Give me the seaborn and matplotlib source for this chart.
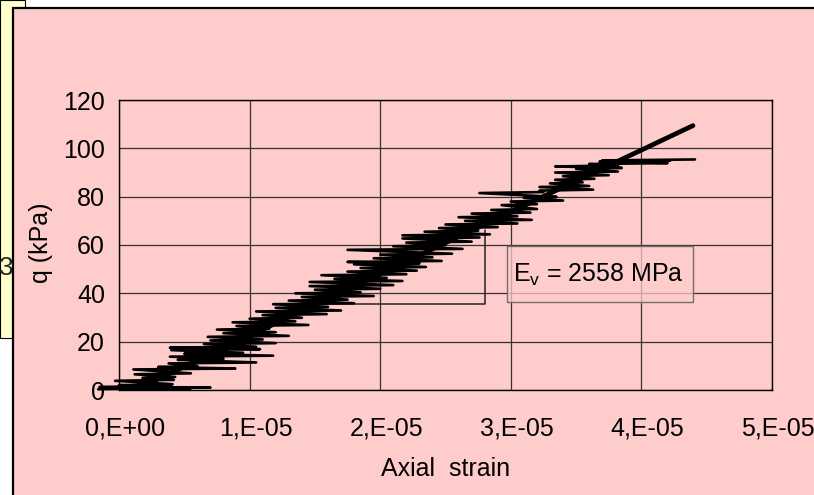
import numpy as np
import pandas as pd
import matplotlib
matplotlib.use("Agg")
import matplotlib.pyplot as plt
from matplotlib.patches import Rectangle
from matplotlib.transforms import ScaledTranslation
import seaborn as sns

# ---------------- data ----------------
# levels of deviatoric stress q (kPa) with left / right strain excursions (micro-strain)
q_levels = [0.3, 0.6, 1.2, 2.0, 3.8, 5.0, 6.5, 8.5, 9.5, 11.0, 12.5, 13.8, 15.0, 16.5,
            17.5, 19.0, 20.5, 22.0, 23.5, 25.0, 26.5, 28.0, 29.5, 31.0, 32.5, 34.0,
            35.5, 37.0, 38.5, 40.0, 41.5, 43.0, 44.7, 46.0, 47.5, 49.0, 50.5, 52.0,
            53.0, 54.5, 56.0, 58.0, 59.5, 61.0, 62.7, 64.0, 65.5, 67.0, 68.5, 70.0,
            71.5, 73.0, 74.5, 76.5, 78.0, 79.5, 81.5, 82.5, 84.0, 85.5, 87.0, 88.5,
            90.0, 91.5, 92.5, 93.5, 94.5, 95.0]
left_ue = [-1.6, -1.2, -1.5, 0.0, -0.3, 1.8, 1.2, 1.1, 3.0, 3.8, 4.5, 3.9, 5.0, 4.0,
           3.9, 6.5, 7.0, 6.8, 8.0, 7.5, 9.0, 8.7, 10.0, 11.0, 10.5, 12.0,
           11.8, 13.0, 14.0, 13.5, 15.0, 14.6, 14.6, 16.5, 15.5, 17.5, 18.5, 18.0,
           17.5, 19.5, 20.0, 17.5, 21.0, 22.0, 21.7, 21.7, 23.4, 24.5, 25.0, 26.5,
           26.0, 27.0, 28.5, 29.3, 30.0, 31.0, 27.6, 32.2, 32.2, 33.0, 33.4, 34.0,
           33.4, 35.0, 33.4, 36.0, 36.8, 37.0]
right_ue = [5.5, 7.0, 4.0, 4.1, 4.2, 4.3, 5.5, 8.9, 6.0, 10.5, 8.0, 11.8, 9.5, 10.8,
            10.5, 12.0, 11.0, 13.0, 12.0, 11.5, 14.5, 13.5, 14.0, 15.9, 17.0, 16.0,
            18.0, 17.5, 19.5, 18.5, 20.0, 21.0, 21.7, 20.5, 22.0, 22.8, 23.5, 23.0,
            24.7, 24.0, 25.5, 26.3, 25.0, 27.0, 27.6, 28.4, 27.5, 29.0, 30.5, 31.6,
            30.5, 31.5, 32.0, 32.0, 34.0, 33.5, 32.5, 36.3, 36.0, 35.5, 36.4, 37.5,
            38.2, 38.5, 38.2, 42.0, 42.2, 44.1]

# linear fit (E_v = 2558 MPa)
fit_strain = [1.2e-6, 43.95e-6]
fit_q = [0.0, 109.4]

# slope triangle
tri_strain = [15.1e-6, 28.0e-6, 28.0e-6]
tri_q = [35.6, 35.6, 66.2]

x_ticks = [0.0, 1e-5, 2e-5, 3e-5, 4e-5, 5e-5]
x_tick_labels = ["0,E+00", "1,E-05", "2,E-05", "3,E-05", "4,E-05", "5,E-05"]
y_ticks = [0, 20, 40, 60, 80, 100, 120]

# build the measured trace: each level drawn left -> right
strain_seq, q_seq = [], []
for qv, lv, rv in zip(q_levels, left_ue, right_ue):
    strain_seq += [lv * 1e-6, rv * 1e-6]
    q_seq += [qv, qv + 0.4]
df = pd.DataFrame({"strain": strain_seq, "q": q_seq})

# ---------------- style ----------------
sns.set_theme(style="white")
plt.rcParams["font.family"] = ["Liberation Sans", "DejaVu Sans"]
plt.rcParams["mathtext.fontset"] = "custom"
plt.rcParams["mathtext.rm"] = "Liberation Sans"
plt.rcParams["mathtext.it"] = "Liberation Sans"

PINK = "#FFCCCC"
YELLOW = "#FFFFCC"
W, H = 814, 495
fig = plt.figure(figsize=(W / 100, H / 100), dpi=100)
fig.patch.set_facecolor("white")

# background decorations (in pixel-derived figure fractions)
yellow = Rectangle((0, (H - 338) / H), 25 / W, 338 / H, transform=fig.transFigure,
                   facecolor=YELLOW, edgecolor="black", linewidth=0.8, zorder=-10)
fig.patches.append(yellow)
fig.text(6 / W, 1 - 268 / H, "3", fontsize=19, ha="center", va="center", zorder=-9)
pink = Rectangle((13 / W, -0.05), 1.0, (H - 7.5) / H + 0.05, transform=fig.transFigure,
                 facecolor=PINK, edgecolor="black", linewidth=1.6, zorder=-8)
fig.patches.append(pink)

ax = fig.add_axes([119 / W, 1 - 390 / H, (772 - 119) / W, (390 - 100) / H])
ax.set_facecolor(PINK)

sns.lineplot(data=df, x="strain", y="q", sort=False, estimator=None, color="black",
             linewidth=1.9, ax=ax, clip_on=False, zorder=3)
sns.lineplot(x=fit_strain, y=fit_q, sort=False, estimator=None, color="black",
             linewidth=3.4, ax=ax, zorder=4)
ax.plot(tri_strain, tri_q, color="#222222", linewidth=1.1, zorder=2)

ax.set_xlim(0, 5e-5)
ax.set_ylim(0, 120)
ax.set_xticks(x_ticks)
ax.set_xticklabels(x_tick_labels)
ax.set_yticks(y_ticks)
ax.grid(True, color="#333333", linewidth=0.9)
ax.set_axisbelow(True)
for s in ax.spines.values():
    s.set_color("black")
    s.set_linewidth(1.0)

ax.tick_params(axis="both", labelsize=18, colors="black", direction="out",
               length=5, width=0.9)
ax.tick_params(axis="x", pad=14)
ax.tick_params(axis="y", pad=5)
off = ScaledTranslation(6 / 100, 0, fig.dpi_scale_trans)
for lab in ax.get_xticklabels():
    lab.set_transform(lab.get_transform() + off)

ax.set_xlabel("Axial  strain", fontsize=18, color="black")
ax.xaxis.set_label_coords(0.5, (390 - 457) / 290)
ax.set_ylabel("q (kPa)", fontsize=18, color="black")
ax.yaxis.set_label_coords((53 - 119) / 653, (390 - 243) / 290)

# E_v annotation box
bx0 = (507 - 119) / 653 * 5e-5
bx1 = (693 - 119) / 653 * 5e-5
by0 = (390 - 302) / 290 * 120
by1 = (390 - 246) / 290 * 120
ax.add_patch(Rectangle((bx0, by0), bx1 - bx0, by1 - by0, facecolor=PINK, alpha=0.75,
                       edgecolor="none", zorder=5))
ax.add_patch(Rectangle((bx0, by0), bx1 - bx0, by1 - by0, facecolor="none",
                       edgecolor="#707070", linewidth=1.0, zorder=5))
ax.text((513 - 119) / 653 * 5e-5, (390 - 282) / 290 * 120,
        r"E$_{\mathregular{v}}$ = 2558 MPa", fontsize=18, va="baseline", ha="left",
        color="black", zorder=6)

fig.savefig("out.png", dpi=100, facecolor=fig.get_facecolor())
